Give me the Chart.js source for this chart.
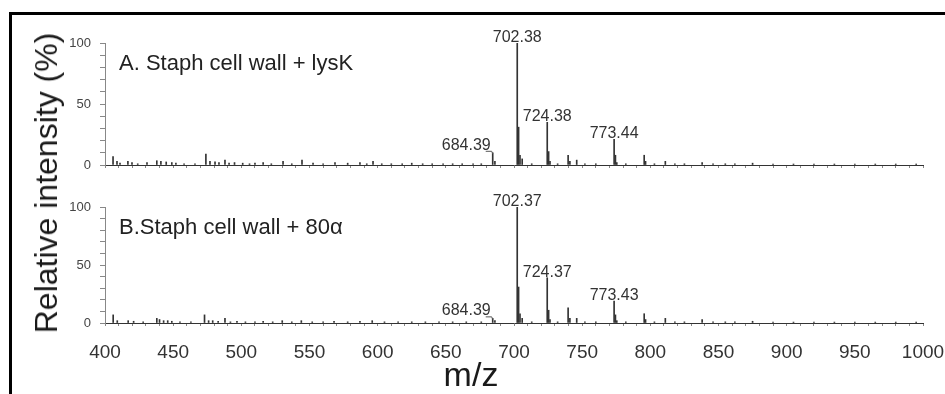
<!DOCTYPE html>
<html>
<head>
<meta charset="utf-8">
<script src="https://cdn.jsdelivr.net/npm/chart.js@4.4.1/dist/chart.umd.min.js"></script>
<style>
  body { margin: 0; background: #fff; font-family: "Liberation Sans", Arial, sans-serif; }
  #wrap { position: relative; width: 945px; height: 394px; overflow: hidden; }
  #frame { position: absolute; left: 9px; top: 12px; width: 960px; height: 420px;
           border-top: 3px solid #000; border-left: 3px solid #000; }
  #ca { position: absolute; left: 0; top: 0; }
  #cb { position: absolute; left: 0; top: 175px; }
  #ytitle { position: absolute; left: 46px; top: 183px; transform: translate(-50%, -50%) rotate(-90deg);
            font-size: 32px; line-height: 1; white-space: nowrap; color: #1a1a1a; }
  #xtitle { position: absolute; left: 471px; top: 374px; transform: translate(-50%, -50%);
            font-size: 34px; line-height: 1; color: #1a1a1a; }
</style>
</head>
<body>
<div id="wrap">
  <div id="frame"></div>
  <canvas id="ca" width="945" height="175"></canvas>
  <canvas id="cb" width="945" height="219"></canvas>
  <div id="ytitle">Relative intensity (%)</div>
  <div id="xtitle">m/z</div>
</div>
<script>
// spectrum A: Staph cell wall + lysK
const mzA = [405.9, 408.8, 411, 416.8, 419.8, 424, 430.8, 438, 441, 444.9, 449, 452, 458, 466,
  474, 477, 480.7, 483.6, 488, 491, 495, 501, 506, 510, 516, 522, 530.6, 537, 544.5, 552.6,
  560, 568.7, 578, 587, 592, 596.6, 603, 610, 618, 625, 633, 640, 648, 655, 662, 670, 676,
  684.39, 686, 702.38, 703.38, 704.4, 706, 713, 724.38, 725.4, 726.4, 732, 739.7, 741, 746,
  752, 760, 773.44, 774.4, 775.4, 782, 795.5, 796.5, 803, 811, 818, 825, 838, 846, 855, 862,
  875, 890, 905, 920, 935, 950, 965, 980, 995];
const intA = [7, 3, 1.5, 3, 2, 1, 2, 3.5, 3, 2.5, 2, 1.5, 1, 1,
  9, 3, 2.5, 2, 4, 1.5, 2, 1.5, 1, 1.5, 2, 1, 3, 1, 4, 1.5,
  1, 2, 1.5, 2, 1, 3, 1, 1, 1, 1.5, 1, 1, 1, 1, 1, 1, 1,
  10, 3, 100, 31, 8, 5, 1, 35, 11, 3, 1, 8, 3, 4,
  1, 1, 21, 8, 2, 1, 8, 3, 1, 3, 1, 1, 2, 1, 1, 1,
  1.5, 0.8, 0.8, 0.8, 0.8, 0.8, 0.8, 0.8, 0.8];

// spectrum B: Staph cell wall + 80α
const mzB = [406, 409, 417, 421, 428, 438, 440, 443, 446, 449, 455, 463, 473, 476, 479, 483,
  488, 492, 496.8, 503, 510, 516, 523, 530, 537, 544, 552, 560, 568, 578, 587, 596, 605, 615,
  625, 635, 645, 655, 665, 676, 684.39, 686, 702.37, 703.37, 704.4, 706, 713, 724.37, 725.4,
  726.4, 732, 739.7, 741, 746, 752, 760, 773.43, 774.4, 775.4, 782, 795.5, 796.5, 803, 811,
  818, 825, 838, 846, 855, 862, 875, 890, 905, 920, 935, 950, 965, 980, 995];
const intB = [7, 2, 2, 1.5, 1, 4, 3, 2, 2, 1.5, 1, 1, 7, 2, 2, 1.5,
  4, 1, 1.5, 1, 1, 1.5, 1, 2, 1, 2, 1, 1, 1.5, 1, 1.5, 2, 1, 1,
  1, 1, 1, 1, 1, 1, 4, 2, 100, 31, 8, 4, 1, 39, 11,
  3, 1, 13, 4, 4, 1, 1, 19, 7, 2, 1, 8, 3, 1, 4,
  1, 1, 3, 1, 1, 1, 1.5, 0.8, 0.8, 0.8, 0.8, 0.8, 0.8, 0.8, 0.8];

const labelledA = [684.39, 702.38, 724.38, 773.44];
const labelledB = [684.39, 702.37, 724.37, 773.43];
const titleA = "A. Staph cell wall + lysK";
const titleB = "B.Staph cell wall + 80α";

const FONT = '"Liberation Sans", Arial, sans-serif';

// panel title and peak labels, placed from the scales
const peakLabels = {
  id: "peakLabels",
  afterDatasetsDraw(chart, args, opts) {
    const { ctx, chartArea, scales: { x, y } } = chart;
    ctx.save();
    ctx.fillStyle = "#222";
    ctx.font = "22px " + FONT;
    ctx.textAlign = "left";
    ctx.textBaseline = "alphabetic";
    ctx.fillText(opts.title, chartArea.left + 14, chartArea.top + 27);

    ctx.font = "16px " + FONT;
    ctx.fillStyle = "#333";
    opts.peaks.forEach(mz => {
      const h = opts.inten[opts.mz.indexOf(mz)];
      const px = x.getPixelForValue(mz);
      const py = y.getPixelForValue(h);
      const txt = mz.toFixed(2);
      if (h < 15) {
        // small peak: label to the left with a short leader
        ctx.textAlign = "right";
        ctx.fillText(txt, px - 2, py - 3);
        ctx.strokeStyle = "#555";
        ctx.lineWidth = 1;
        ctx.beginPath();
        ctx.moveTo(px - 7, py - 1.5);
        ctx.lineTo(px - 1, py - 1.5);
        ctx.lineTo(px, py + 1);
        ctx.stroke();
      } else {
        ctx.textAlign = "center";
        ctx.fillText(txt, px, py - 1);
      }
    });
    ctx.restore();
  }
};

function makeChart(id, mz, inten, peaks, title, padTop, xHeight, showLabels) {
  return new Chart(document.getElementById(id), {
    type: "bar",
    data: {
      datasets: [{
        data: mz.map((v, i) => ({ x: v, y: inten[i] })),
        backgroundColor: "#333",
        borderWidth: 0,
        barThickness: 1
      }]
    },
    options: {
      responsive: false,
      animation: false,
      layout: { padding: { left: 0, right: 22, top: padTop, bottom: 0 } },
      plugins: {
        legend: { display: false },
        tooltip: { enabled: false },
        peakLabels: { mz, inten, peaks, title }
      },
      scales: {
        x: {
          type: "linear", min: 400, max: 1000, offset: false,
          grid: { drawOnChartArea: false, drawTicks: true, tickLength: 3, color: "#888", offset: false },
          border: { color: "#333", width: 1 },
          ticks: {
            display: showLabels, stepSize: 10, autoSkip: false, maxRotation: 0, padding: 15,
            color: "#333", font: { size: 19, family: FONT },
            callback: v => (v % 50 === 0 ? v : "")
          },
          afterFit: s => { s.height = xHeight; s.paddingLeft = 0; s.paddingRight = 0; }
        },
        y: {
          min: 0, max: 100,
          grid: { drawOnChartArea: false, drawTicks: true, tickLength: 5, color: "#888" },
          border: { color: "#888", width: 1 },
          ticks: {
            stepSize: 10, autoSkip: false, padding: 9, color: "#444",
            font: { size: 13, family: FONT },
            callback: v => (v % 50 === 0 ? v : "")
          },
          afterFit: s => { s.width = 105; s.paddingTop = 0; s.paddingBottom = 0; }
        }
      }
    },
    plugins: [peakLabels]
  });
}

makeChart("ca", mzA, intA, labelledA, titleA, 43, 10, false);
makeChart("cb", mzB, intB, labelledB, titleB, 32, 71, true);
</script>
</body>
</html>
